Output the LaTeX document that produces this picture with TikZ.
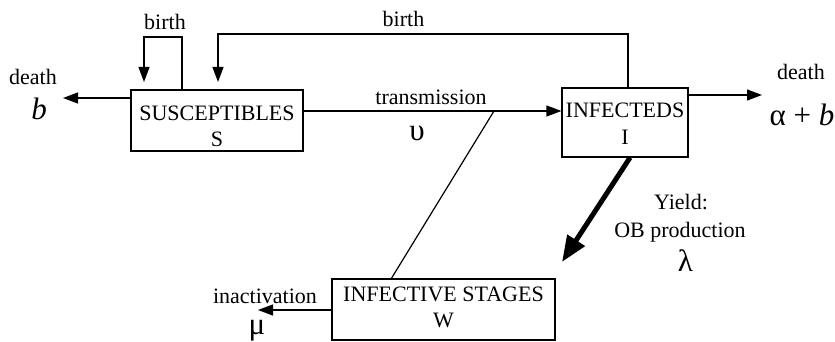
\documentclass[tikz,border=0pt]{standalone}
\usepackage{fontspec}
\setmainfont{Liberation Serif}
\usetikzlibrary{arrows.meta}
\begin{document}
\begin{tikzpicture}[x=1pt,y=-1pt,
  box/.style={draw, line width=1.2pt, inner sep=0pt},
  boxtext/.style={font=\fontsize{22}{26}\selectfont, align=center, inner sep=0pt},
  lbl/.style={font=\fontsize{22}{26}\selectfont, anchor=base, inner sep=0pt},
  sym/.style={font=\fontsize{31}{36}\selectfont, anchor=base, inner sep=0pt},
  conn/.style={line width=1.2pt, -{Triangle[length=15pt,width=11pt]}},
  plainline/.style={line width=1.2pt},
  bigarrow/.style={line width=5pt, -{Triangle[length=26pt,width=20pt]}}]
\useasboundingbox (0,0) rectangle (835,342);
\fill[white] (0,0) rectangle (835,342);

% boxes
\node[box, minimum width=172pt, minimum height=61pt] (S) at (217,120.5) {};
\node[boxtext] (St) at (217,126.5) {SUSCEPTIBLES\\S};
\node[box, minimum width=126pt, minimum height=69pt] (I) at (625,122.5) {};
\node[boxtext, font=\fontsize{22}{27}\selectfont] (It) at (625,124) {INFECTEDS\\I};
\node[box, minimum width=223pt, minimum height=61pt] (W) at (443.5,309.5) {};
\node[boxtext] (Wt) at (443.5,307.5) {INFECTIVE STAGES\\W};

% coordinates
\coordinate (sl1) at (182,37);
\coordinate (sl2) at (144,37);
\coordinate (sl3) at (144,82);
\coordinate (bl1) at (628,34);
\coordinate (bl2) at (218,34);
\coordinate (bl3) at (218,82);
\coordinate (dl) at (63,98);
\coordinate (dr) at (762,95);
\coordinate (tj) at (494,111);
\coordinate (inact) at (258,310);
\coordinate (yt) at (562,262);

% self birth loop
\draw[conn] (S.north west -| sl1) -- (sl1) -- (sl2) -- (sl3);
% birth from infecteds
\draw[conn] (I.north -| bl1) -- (bl1) -- (bl2) -- (bl3);
% death of susceptibles
\draw[conn] (S.west |- dl) -- (dl);
% transmission
\draw[conn] (S.east |- tj) -- (I.west |- tj);
% death of infecteds
\draw[conn] (I.east |- dr) -- (dr);
% infective stages to transmission
\draw[plainline] ([xshift=60pt]W.north west) -- (tj);
% inactivation
\draw[conn] (W.west |- inact) -- (inact);
% yield
\draw[bigarrow] ([xshift=5pt]I.south) -- (yt);

% labels
\node[lbl] (lb1) at (165,30) {birth};
\node[lbl] (lb2) at (403.5,27) {birth};
\node[lbl] (ld1) at (33,85) {death};
\node[sym] (sb) at (39,120) {\textit{b}};
\node[lbl] (ltr) at (431,105) {transmission};
\node[sym] (su) at (417,140) {υ};
\node[lbl] (ld2) at (801,80) {death};
\node[sym] (sab) at (802,125) {α + \textit{b}};
\node[lbl] (lin) at (265,303) {inactivation};
\node[sym] (smu) at (257,334) {μ};
\node[lbl] (ly1) at (681,209) {Yield:};
\node[lbl] (ly2) at (680,237) {OB production};
\node[sym] (sla) at (685.5,271) {λ};
\end{tikzpicture}
\end{document}
